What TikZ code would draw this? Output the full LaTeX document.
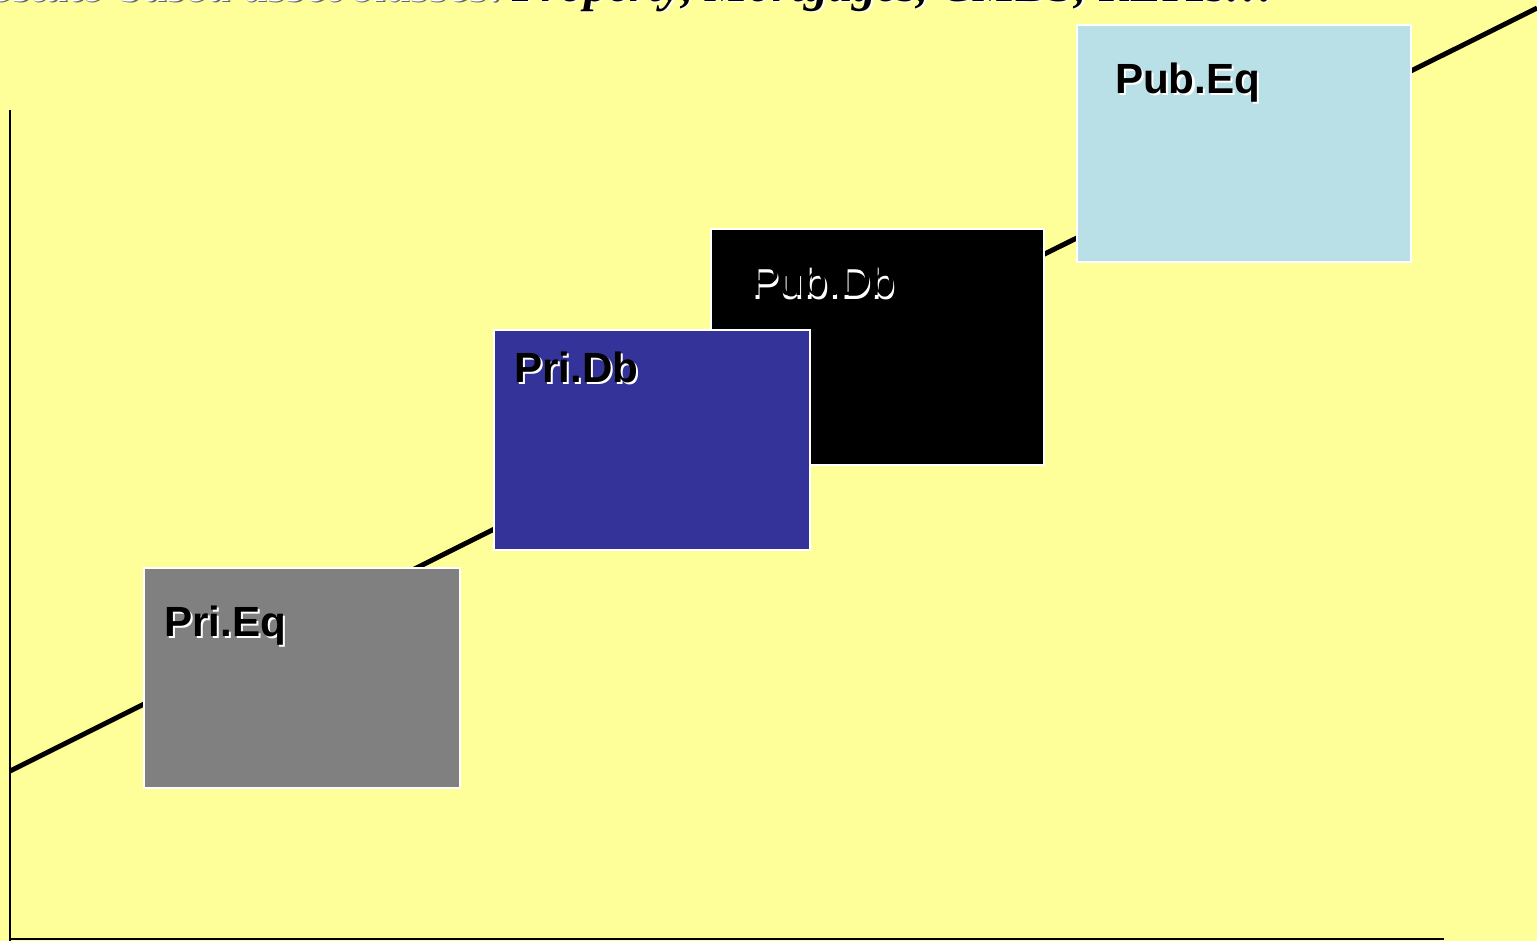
\documentclass[tikz,border=0pt]{standalone}
\usepackage{fontspec}
\setmainfont{Liberation Sans}
\newfontfamily\titleserif{Liberation Serif}
\definecolor{paper}{HTML}{FFFF99}
\definecolor{prieqfill}{HTML}{808080}
\definecolor{pridbfill}{HTML}{333399}
\definecolor{pubeqfill}{HTML}{B9E0E6}
\definecolor{baseline}{HTML}{A0A070}
\begin{document}
\begin{tikzpicture}[x=0.01cm,y=-0.01cm,
  panel/.style={draw=white, line width=0.45pt, inner sep=0pt, outer sep=0pt,
                anchor=north west},
  tag/.style={anchor=base west, inner sep=0pt, outer sep=0pt,
              font=\fontsize{12}{14}\selectfont\bfseries},
  tagshadow/.style={tag, text=white, xshift=0.6pt, yshift=-0.6pt},
  headline/.style={anchor=base west, inner sep=0pt, outer sep=0pt,
                   font=\titleserif\fontsize{13.7}{16}\selectfont\bfseries\itshape}]

  % page
  \fill[paper] (0,0) rectangle (1537,941);
  \useasboundingbox (0,0) rectangle (1537,941);

  % headline, running off the top edge
  \node[headline, anchor=base east, text=black!60, xshift=0.4pt, yshift=-0.4pt] at (505,1.5) {Real estate-based asset classes:};
  \node[headline, anchor=base east, text=white] (headA) at (505,1.5) {Real estate-based asset classes:};
  \node[headline, text=white, xshift=0.4pt, yshift=-0.4pt] at (512,1.5) {Property, Mortgages, CMBS, REITs…};
  \node[headline, text=black] (headB) at (512,1.5) {Property, Mortgages, CMBS, REITs…};

  % axes and trend line
  \coordinate (axtop) at (10,110);
  \coordinate (axbot) at (10,941);
  \coordinate (bl) at (10,939);
  \coordinate (br) at (1444,939);
  \coordinate (trendA) at (10,771);
  \coordinate (trendB) at (1537,8);
  \draw[baseline, line width=0.35pt] (bl) -- (br);
  \draw[black, line width=0.6pt] (axtop) -- (axbot);
  \draw[black, line width=1.4pt] (trendA) -- (trendB);

  % asset-class panels
  \node[panel, fill=prieqfill, minimum width=3.16cm, minimum height=2.20cm] (prieq) at (144,568) {};
  \node[panel, fill=black,     minimum width=3.33cm, minimum height=2.36cm] (pubdb) at (711,229) {};
  \node[panel, fill=pridbfill, minimum width=3.16cm, minimum height=2.20cm] (pridb) at (494,330) {};
  \node[panel, fill=pubeqfill, minimum width=3.34cm, minimum height=2.37cm] (pubeq) at (1077,25) {};

  % panel labels with drop shadow
  \node[tagshadow] at (164,636) {Pri.Eq};
  \node[tag] (lprieq) at (164,636) {Pri.Eq};
  \node[tagshadow] at (514,382) {Pri.Db};
  \node[tag] (lpridb) at (514,382) {Pri.Db};
  \node[tagshadow, font=\fontsize{12.3}{14}\selectfont] at (750,297) {Pub.Db};
  \node[tag, font=\fontsize{12.3}{14}\selectfont, xshift=0.3pt, yshift=0.3pt] (lpubdb) at (750,297) {Pub.Db};
  \node[tagshadow] at (1115,93) {Pub.Eq};
  \node[tag] (lpubeq) at (1115,93) {Pub.Eq};
\end{tikzpicture}
\end{document}
